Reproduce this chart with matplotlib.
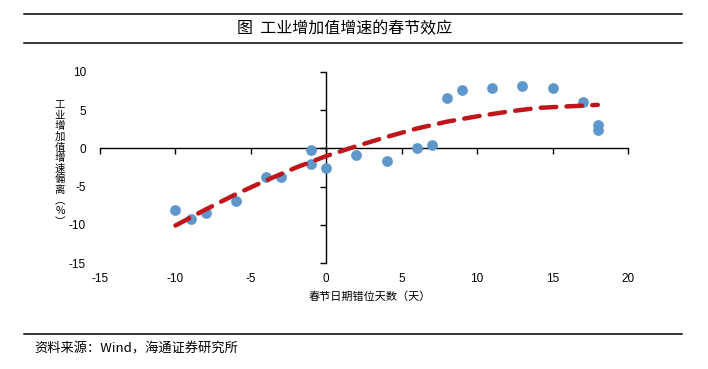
import matplotlib
matplotlib.use("Agg")
import matplotlib.pyplot as plt
from matplotlib.lines import Line2D

plt.rcParams['font.family'] = ['Noto Sans CJK SC', 'DejaVu Sans']

# scatter data: Spring Festival date offset (days) vs IP growth deviation (%)
days = [-10, -9, -8, -6, -4, -3, -1, -1, 0, 2, 4, 6, 7, 8, 9, 11, 13, 15, 17, 18, 18]
deviation = [-8.0, -9.2, -8.4, -6.9, -3.8, -3.8, -0.2, -2.1, -2.5, -0.8, -1.6,
             0.0, 0.5, 6.6, 7.7, 7.9, 8.2, 7.9, 6.1, 3.0, 2.4]

# fitted trend line
trend_x = [-10, -8, -6, -4, -2, 0, 2, 4, 6, 8, 10, 12, 14, 16, 18]
trend_y = [-10.1, -8.0, -6.0, -4.2, -2.5, -1.0, 0.3, 1.5, 2.6, 3.5, 4.2, 4.8, 5.3, 5.5, 5.7]

xticks = [-15, -10, -5, 0, 5, 10, 15, 20]
yticks = [-15, -10, -5, 0, 5, 10]

title = "图  工业增加值增速的春节效应"
xlabel = "春节日期错位天数（天）"
ylabel_chars = ["工", "业", "增", "加", "值", "增", "速", "偏", "离", "︵", "%", "︶"]
source = "资料来源：Wind，海通证券研究所"

W, H = 708, 369
fig = plt.figure(figsize=(W / 100, H / 100), dpi=100)

rect = [100 / W, 1 - 263 / H, 528 / W, 191 / H]

# axes for tick labels at the edges
ax = fig.add_axes(rect)
ax.set_xlim(-15, 20)
ax.set_ylim(-15, 10)
for s in ax.spines.values():
    s.set_visible(False)
ax.set_xticks(xticks)
ax.set_yticks(yticks)
ax.set_xticklabels([str(v) for v in xticks], fontfamily='Liberation Sans', fontsize=8.5)
ax.set_yticklabels([str(v) for v in yticks], fontfamily='Liberation Sans', fontsize=8.5)
ax.tick_params(axis='x', length=0, pad=7)
ax.tick_params(axis='y', length=0, pad=10)
ax.patch.set_alpha(0)

# axes with crossing spines at origin
ax2 = fig.add_axes(rect, sharex=ax, sharey=ax)
ax2.patch.set_alpha(0)
ax2.spines['top'].set_visible(False)
ax2.spines['right'].set_visible(False)
ax2.spines['left'].set_position(('data', 0))
ax2.spines['bottom'].set_position(('data', 0))
ax2.spines['left'].set_linewidth(1.0)
ax2.spines['bottom'].set_linewidth(1.0)
ax2.tick_params(axis='x', direction='out', length=4, width=1, labelbottom=False)
ax2.tick_params(axis='y', direction='out', length=4, width=1, labelleft=False)

ax2.scatter(days, deviation, s=60, color='#5F97CB', zorder=3, linewidths=0)
ax2.plot(trend_x, trend_y, color='#C0161B', lw=3.2, dashes=(3.5, 2.3), zorder=4,
         dash_capstyle='round')

# texts
fig.text(370 / W, 1 - 297 / H, xlabel, ha='center', va='center', fontsize=8)
n = len(ylabel_chars)
y0, y1 = 105, 222
for i, ch in enumerate(ylabel_chars):
    yy = y0 + (y1 - y0) * i / (n - 1)
    fig.text(60 / W, 1 - yy / H, ch, ha='center', va='center', fontsize=7.5)
fig.text(345 / W, 1 - 29 / H, title, ha='center', va='center', fontsize=11.5)
fig.text(34 / W, 1 - 349 / H, source, ha='left', va='center', fontsize=9.5)

# horizontal rules
for yy in (14, 43, 334):
    fig.add_artist(Line2D([24 / W, 682 / W], [1 - yy / H, 1 - yy / H], color='black', lw=1.1))

fig.savefig("out.png", dpi=100)
